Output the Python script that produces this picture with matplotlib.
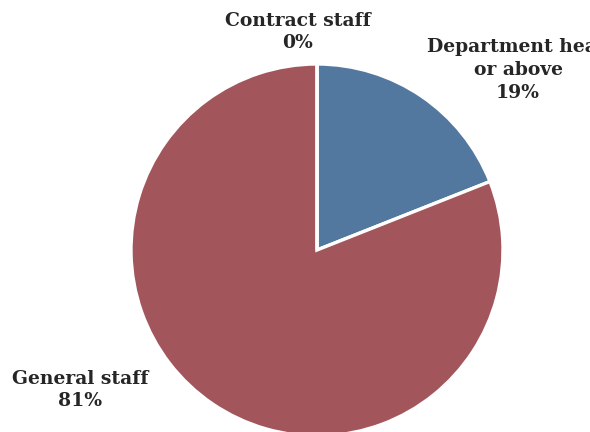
import matplotlib
matplotlib.use('Agg')
import matplotlib.pyplot as plt

categories = ['Department head\nor above', 'General staff', 'Contract staff']
shares = [19, 81, 0]
colors = ['#53789f', '#a2565c', '#8a8a8a']

# label anchor points (pixel coords, y measured from bottom)
label_pos = [(518, 362), (80, 42), (298, 400)]

W, H = 590, 432
fig = plt.figure(figsize=(W / 100, H / 100), dpi=100)
ax = fig.add_axes([0, 0, 1, 1])
ax.set_xlim(0, W)
ax.set_ylim(0, H)
ax.axis('off')

ax.pie(shares, colors=colors, startangle=90, counterclock=False,
       center=(317, 182), radius=186, frame=True,
       wedgeprops=dict(edgecolor='white', linewidth=2.4))
ax.set_xlim(0, W)
ax.set_ylim(0, H)
ax.set_aspect('equal')
ax.axis('off')

total = sum(shares)
for name, val, (x, y) in zip(categories, shares, label_pos):
    pct = round(100 * val / total)
    ax.text(x, y, f'{name}\n{pct}%', ha='center', va='center',
            fontsize=13.5, fontweight='bold', family='DejaVu Serif',
            color='#262626', linespacing=1.35, clip_on=False)

fig.savefig('out.png', dpi=100)
plt.close(fig)
